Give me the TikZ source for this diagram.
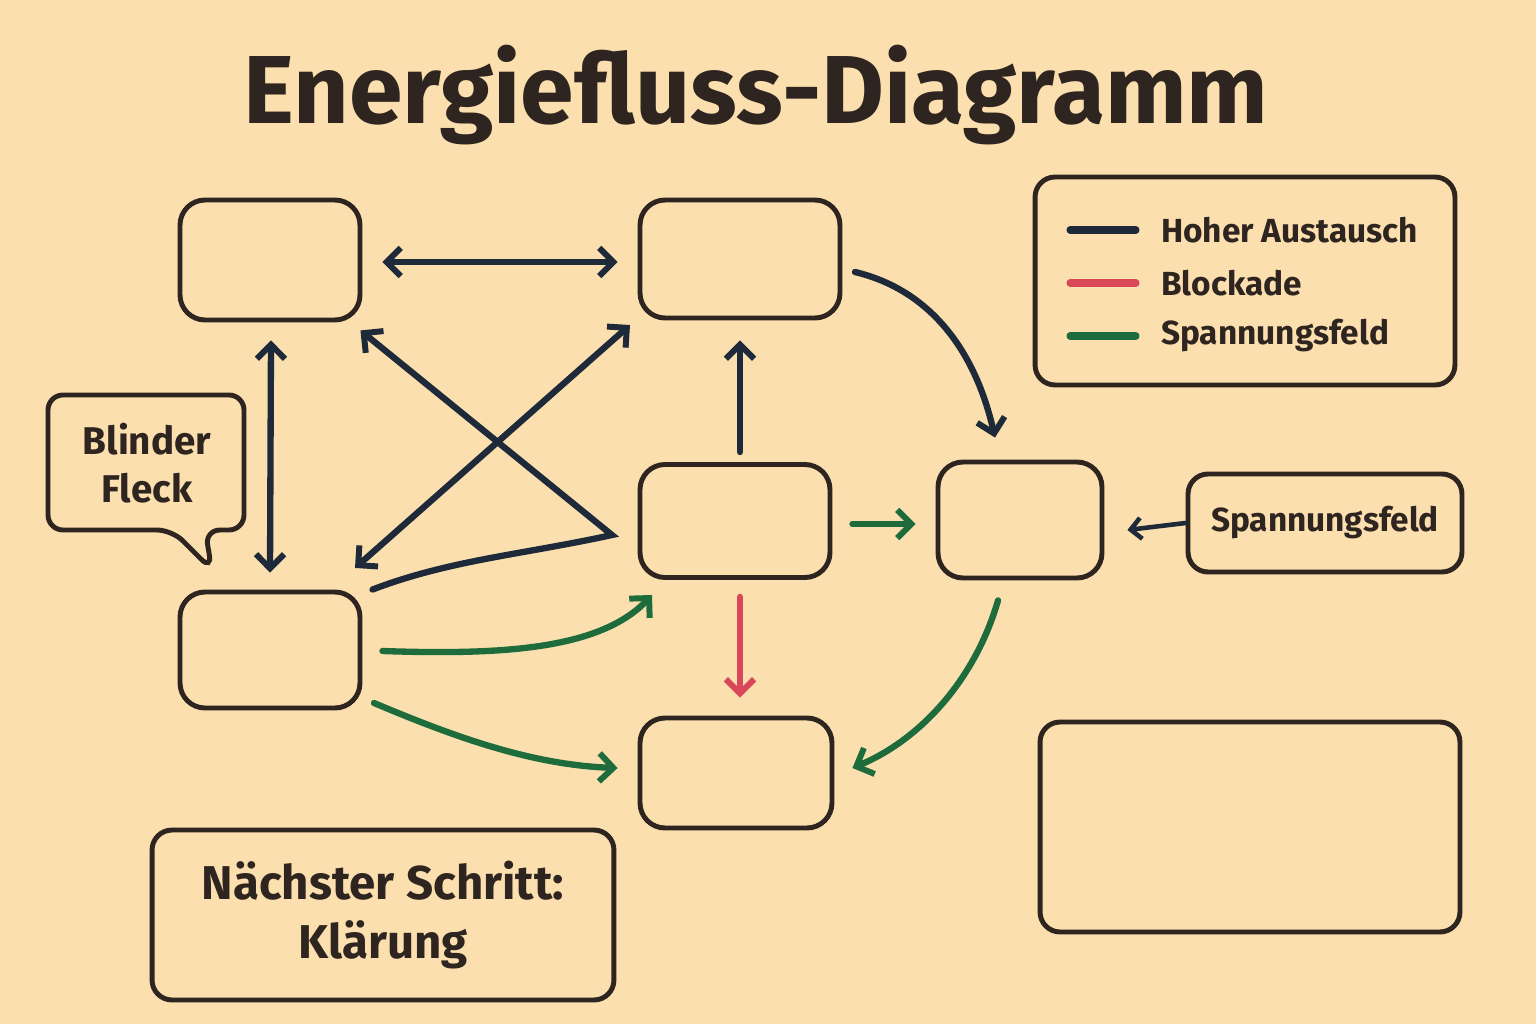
\documentclass[tikz,border=0pt]{standalone}
\usepackage{fontspec}
\setmainfont{Fira Sans}
\usetikzlibrary{arrows.meta}
\definecolor{bgcol}{HTML}{FBDFAE}
\definecolor{ink}{HTML}{2E2420}
\definecolor{flow}{HTML}{1E2A3A}
\definecolor{block}{HTML}{D9475A}
\definecolor{tension}{HTML}{1E6B3C}
\tikzset{
  box/.style={draw=ink,line width=2.8pt,rounded corners=0.5cm,inner sep=0pt},
  tip/.style={-{Straight Barb[length=8pt,width=16pt,line width=3.4pt]}},
  tips/.style={{Straight Barb[length=8pt,width=16pt,line width=3.4pt]}-{Straight Barb[length=8pt,width=16pt,line width=3.4pt]}},
  high/.style={draw=flow,line width=3.6pt,line cap=round},
  stop/.style={draw=block,line width=3.6pt,line cap=round},
  strain/.style={draw=tension,line width=3.6pt,line cap=round},
  lbl/.style={font=\bfseries\fontsize{19}{22}\selectfont,text=ink}
}
\begin{document}
\begin{tikzpicture}[x=0.02cm,y=-0.02cm]
\fill[bgcol] (0,0) rectangle (1536,1024);
\useasboundingbox (0,0) rectangle (1536,1024);
% title
\node[font=\bfseries\fontsize{55}{60}\selectfont,text=ink] (title) at (756,95) {Energiefluss-Diagramm};
% boxes
\node[box,minimum width=3.6cm,minimum height=2.4cm] (a) at (270,260) {};
\node[box,minimum width=4cm,minimum height=2.36cm] (b) at (740,259) {};
\node[box,minimum width=3.8cm,minimum height=2.26cm] (c) at (735,521) {};
\node[box,minimum width=3.6cm,minimum height=2.32cm] (d) at (270,650) {};
\node[box,minimum width=3.28cm,minimum height=2.32cm] (e) at (1020,520) {};
\node[box,minimum width=3.84cm,minimum height=2.2cm] (f) at (736,773) {};
\node[box,minimum width=8.4cm,minimum height=4.2cm,rounded corners=0.4cm] (empty) at (1250,827) {};
\node[box,minimum width=5.48cm,minimum height=1.96cm,rounded corners=0.4cm,lbl] (tens) at (1325,523) {Spannungsfeld};
\node[box,minimum width=9.24cm,minimum height=3.4cm,rounded corners=0.4cm,align=center,
  font=\bfseries\fontsize{27}{34}\selectfont,text=ink] (next) at (383,915) {Nächster Schritt:\\Klärung};
% legend
\node[box,minimum width=8.4cm,minimum height=4.16cm,rounded corners=0.4cm] (legend) at (1245,281) {};
\coordinate (l1) at (1070,230);
\coordinate (l2) at (1070,283);
\coordinate (l3) at (1070,336);
\draw[high,line width=4pt] (l1) -- +(66,0);
\draw[stop,line width=4pt] (l2) -- +(66,0);
\draw[strain,line width=4pt] (l3) -- +(66,0);
\node[lbl,anchor=west] (t1) at (1155,230) {Hoher Austausch};
\node[lbl,anchor=west] (t2) at (1155,283) {Blockade};
\node[lbl,anchor=west] (t3) at (1155,336) {Spannungsfeld};
% callout
\draw[ink,line width=2.8pt,fill=bgcol,rounded corners=0.3cm]
  (48,395) -- (244,395) -- (244,530) -- (205,530) -- (212,570) -- (172,530) -- (48,530) -- cycle;
\node[lbl,align=center,font=\bfseries\fontsize{22}{27}\selectfont] (spot) at (147,463) {Blinder\\Fleck};
% connectors
\draw[high,tips] ([shift={(20,2)}]a.east) -- ([shift={(-20,3)}]b.west);
\draw[high,tips] ([shift={(1,18)}]a.south) -- ([shift={(0,-17)}]d.north);
\draw[high,tip] ([shift={(10,0)}]d.north east) .. controls (450,560) and (520,555) .. (612,535) -- ([shift={(-2,8)}]a.south east);
\draw[high,tips] (630,325) -- (355,568);
\draw[high,tip] ([shift={(5,-10)}]c.north) -- ([shift={(0,20)}]b.south);
\draw[high,tip] (855,272) .. controls (930,290) and (975,350) .. ([shift={(-25,-22)}]e.north);
\draw[high,line width=2.6pt,-{Straight Barb[length=6pt,width=12pt,line width=2.6pt]}] (tens.west) -- ([shift={(23,10)}]e.east);
\draw[strain,tip] ([shift={(20,3)}]c.east) -- ([shift={(-20,4)}]e.west);
\draw[stop,tip] ([shift={(5,17)}]c.south) -- ([shift={(4,-18)}]f.north);
\draw[strain,tip] ([shift={(20,1)}]d.east) .. controls (500,655) and (600,650) .. (652,595);
\draw[strain,tip] (374,703) .. controls (450,735) and (530,765) .. ([shift={(-20,-5)}]f.west);
\draw[strain,tip] ([shift={(-22,20)}]e.south) .. controls (975,680) and (920,740) .. ([shift={(18,-5)}]f.east);
\end{tikzpicture}
\end{document}
